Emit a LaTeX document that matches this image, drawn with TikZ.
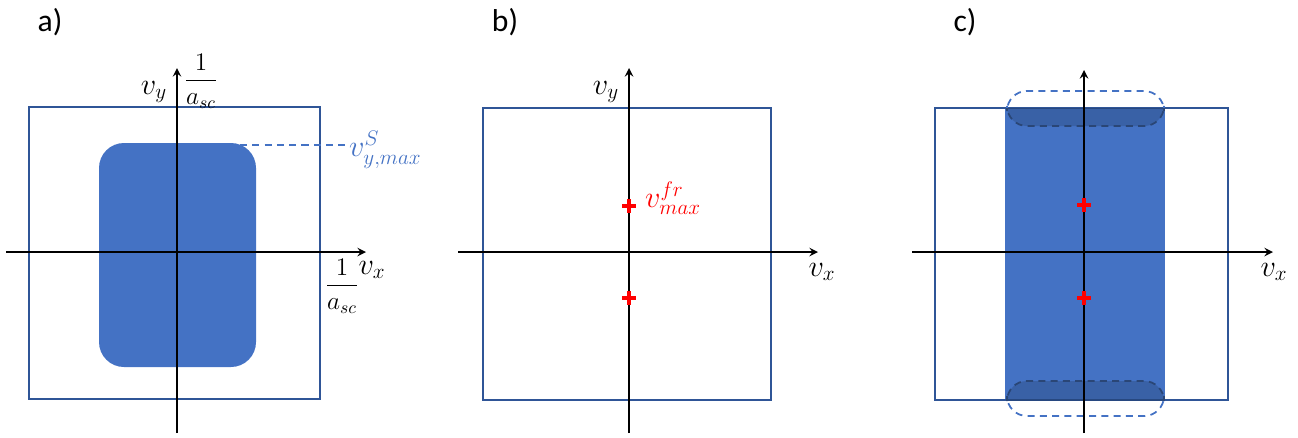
\documentclass[tikz,border=0pt]{standalone}
\usepackage{amsmath}
\usepackage{fontspec}
\newfontfamily\panelfont{Carlito}
\definecolor{boxblue}{HTML}{2F5597}
\definecolor{fillblue}{HTML}{4472C4}
\definecolor{darkblue}{HTML}{2A4676}
\definecolor{plusred}{HTML}{FF0000}
\tikzset{
    frame/.style={draw=boxblue, line width=0.85pt},
    axis/.style={->, draw=black, line width=1.15pt},
    redplus/.style={draw=plusred, line width=2.2pt},
    panel/.style={font=\panelfont\fontsize{18}{20}\selectfont},
    lbl/.style={font=\fontsize{17}{19}\selectfont, inner sep=1pt},
    fraclbl/.style={font=\fontsize{14}{16}\selectfont, inner sep=1pt},
    zone/.style={dash pattern=on 4pt off 3pt, draw=fillblue, line width=1pt, rounded corners=0.4cm}
}
\begin{document}
\begin{tikzpicture}[x=0.02cm, y=-0.02cm, >=stealth]
    \useasboundingbox (0,0) rectangle (1298,437);

    % a) rounded admissible region inside the box
    \node[panel] (pa) at (50,22) {a)};
    \draw[frame] (29,107) rectangle (320,399);
    \fill[fillblue, rounded corners=0.5cm] (99,143) rectangle (256,367);
    \coordinate (ha0) at (6,252);
    \coordinate (ha1) at (366,252);
    \coordinate (va0) at (177,433);
    \coordinate (va1) at (177,68);
    \draw[axis] (ha0) -- (ha1);
    \draw[axis] (va0) -- (va1);
    \node[lbl] (vya) at (154,92) {$v_y$};
    \node[fraclbl] (fya) at (201,81) {$\dfrac{1}{a_{sc}}$};
    \node[fraclbl] (fxa) at (342,286) {$\dfrac{1}{a_{sc}}$};
    \node[lbl] (vxa) at (372,270) {$v_x$};
    \coordinate (da) at (240,145);
    \node[lbl, anchor=west, text=fillblue] (vsa) at (347,150) {$v^{S}_{y,max}$};
    \draw[dash pattern=on 4pt off 3pt, fillblue, line width=1pt] (da) -- (vsa.west |- da);

    % b) two red points on the vertical axis
    \node[panel] (pb) at (505,22) {b)};
    \draw[frame] (483,108) rectangle (771,400);
    \coordinate (hb0) at (458,252);
    \coordinate (hb1) at (818,252);
    \coordinate (vb0) at (629,433);
    \coordinate (vb1) at (629,68);
    \draw[axis] (hb0) -- (hb1);
    \draw[axis] (vb0) -- (vb1);
    \foreach \py in {206,298}
        \draw[redplus] (622,\py) -- (636,\py) (629,\py-7) -- (629,\py+7);
    \node[lbl] (vyb) at (606,92) {$v_y$};
    \node[lbl] (vxb) at (822,272) {$v_x$};
    \node[lbl, anchor=west, text=plusred] (vfr) at (643,198) {$v^{fr}_{max}$};

    % c) strip through the box, overlapping zones dashed
    \node[panel] (pc) at (965,22) {c)};
    \fill[fillblue] (1005,108) rectangle (1165,400);
    \draw[frame] (935,108) rectangle (1228,400);
    \draw[zone] (1007,91) rectangle (1164,126);
    \draw[zone] (1007,381) rectangle (1164,416);
    \begin{scope}
        \clip (1005,108) rectangle (1165,400);
        \fill[black, opacity=0.15, rounded corners=0.4cm] (1007,91) rectangle (1164,126);
        \fill[black, opacity=0.15, rounded corners=0.4cm] (1007,381) rectangle (1164,416);
        \draw[zone, draw=darkblue] (1007,91) rectangle (1164,126);
        \draw[zone, draw=darkblue] (1007,381) rectangle (1164,416);
    \end{scope}
    \coordinate (hc0) at (912,252);
    \coordinate (hc1) at (1273,252);
    \coordinate (vc0) at (1084,433);
    \coordinate (vc1) at (1084,70);
    \draw[axis] (hc0) -- (hc1);
    \draw[axis] (vc0) -- (vc1);
    \foreach \py in {205,298}
        \draw[redplus] (1077,\py) -- (1091,\py) (1084,\py-7) -- (1084,\py+7);
    \node[lbl] (vxc) at (1274,272) {$v_x$};
\end{tikzpicture}
\end{document}
